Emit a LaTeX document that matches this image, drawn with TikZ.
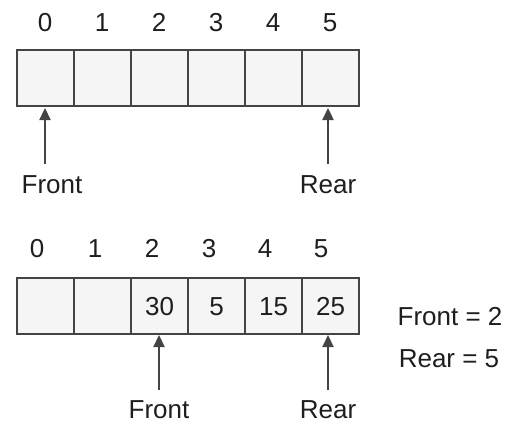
\documentclass[tikz,border=0pt]{standalone}
\usepackage{fontspec}
\setmainfont{Liberation Sans}
\usetikzlibrary{arrows.meta}
\definecolor{ln}{HTML}{444444}
\definecolor{cellfill}{HTML}{F5F5F5}
\definecolor{txt}{HTML}{1E1E1E}
\begin{document}
\begin{tikzpicture}[x=1pt,y=-1pt,
  txtstyle/.style={text=txt,font=\fontsize{26}{30}\selectfont,text height=18.6pt,text depth=0pt},
  cell/.style={draw=ln,line width=2.3pt,fill=cellfill,minimum width=57pt,minimum height=56pt,inner sep=0pt,anchor=north west,txtstyle},
  idx/.style={txtstyle,inner sep=0pt},
  lbl/.style={txtstyle,inner sep=0pt},
  ptr/.style={draw=ln,line width=2.3pt,-{Triangle[length=12pt,width=11pt]}}]
\useasboundingbox (0,0) rectangle (508,424);
% top array
\foreach \i in {0,...,5} {
  \node[cell] (t\i) at ({16+57*\i},49) {};
  \node[idx] (ti\i) at ({45+57*\i},22) {\i};
}
\coordinate (tf) at (45,164);
\coordinate (tr) at (328,164);
\draw[ptr] (tf) -- (45,108);
\draw[ptr] (tr) -- (328,108);
\node[lbl] (tfl) at (52,184) {Front};
\node[lbl] (trl) at (328,184) {Rear};
% bottom array
\node[cell] (b0) at (16,277) {};
\node[cell] (b1) at (73,277) {};
\node[cell] (b2) at (130,277) {30};
\node[cell] (b3) at (187,277) {5};
\node[cell] (b4) at (244,277) {15};
\node[cell] (b5) at (301,277) {25};
\foreach \i/\x in {0/37,1/95,2/152,3/209,4/265,5/321} {
  \node[idx] (bi\i) at (\x,248) {\i};
}
\coordinate (bf) at (159,390);
\coordinate (br) at (328,390);
\draw[ptr] (bf) -- (159,335);
\draw[ptr] (br) -- (328,335);
\node[lbl] (bfl) at (159,409) {Front};
\node[lbl] (brl) at (328,409) {Rear};
\node[lbl] (fe) at (450,316) {Front = 2};
\node[lbl] (re) at (449,358) {Rear = 5};
\end{tikzpicture}
\end{document}
